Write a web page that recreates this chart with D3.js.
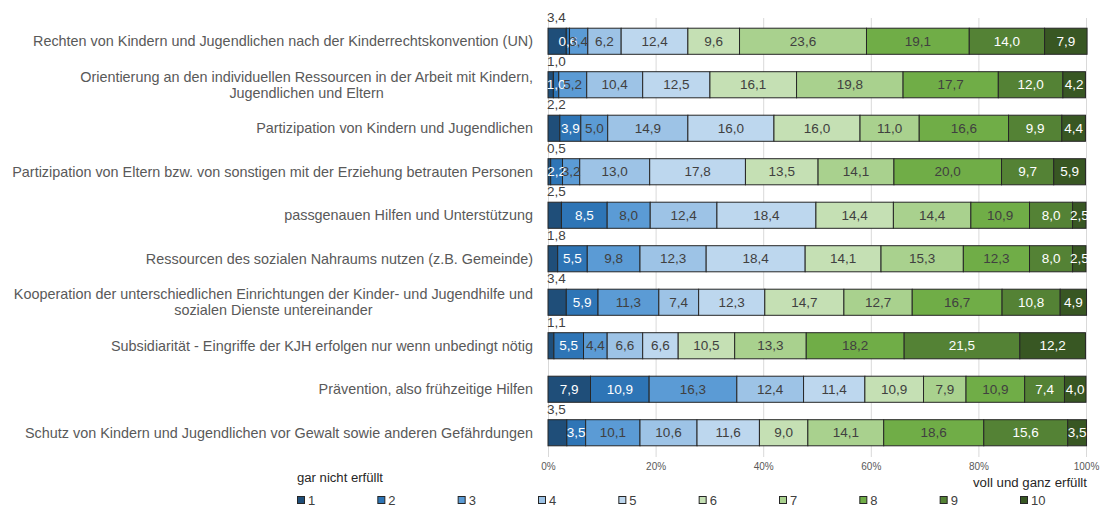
<!DOCTYPE html>
<html>
<head>
<meta charset="utf-8">
<script src="https://cdn.jsdelivr.net/npm/d3@7/dist/d3.min.js"></script>
<style>
  html, body { margin: 0; padding: 0; background: #fff; }
  svg { display: block; font-family: "Liberation Sans", Arial, sans-serif; }
</style>
</head>
<body>
<svg id="chart" width="1101" height="506"></svg>
<script>
// Categories (top to bottom); "\n" marks a line break in the label
const categories = [
  "Rechten von Kindern und Jugendlichen nach der Kinderrechtskonvention (UN)",
  "Orientierung an den individuellen Ressourcen in der Arbeit mit Kindern,\nJugendlichen und Eltern",
  "Partizipation von Kindern und Jugendlichen",
  "Partizipation von Eltern bzw. von sonstigen mit der Erziehung betrauten Personen",
  "passgenauen Hilfen und Unterstützung",
  "Ressourcen des sozialen Nahraums nutzen (z.B. Gemeinde)",
  "Kooperation der unterschiedlichen Einrichtungen der Kinder- und Jugendhilfe und\nsozialen Dienste untereinander",
  "Subsidiarität - Eingriffe der KJH erfolgen nur wenn unbedingt nötig",
  "Prävention, also frühzeitige Hilfen",
  "Schutz von Kindern und Jugendlichen vor Gewalt sowie anderen Gefährdungen"
];

// Rating scale 1 (gar nicht erfüllt) … 10 (voll und ganz erfüllt)
const ratings = ["1", "2", "3", "4", "5", "6", "7", "8", "9", "10"];

// Share of answers per rating (percent), one array per category
const valRechte       = [3.4, 0.6, 3.4, 6.2, 12.4, 9.6, 23.6, 19.1, 14.0, 7.9];
const valOrientierung = [1.0, 1.0, 5.2, 10.4, 12.5, 16.1, 19.8, 17.7, 12.0, 4.2];
const valPartKinder   = [2.2, 3.9, 5.0, 14.9, 16.0, 16.0, 11.0, 16.6, 9.9, 4.4];
const valPartEltern   = [0.5, 2.2, 3.2, 13.0, 17.8, 13.5, 14.1, 20.0, 9.7, 5.9];
const valPassgenau    = [2.5, 8.5, 8.0, 12.4, 18.4, 14.4, 14.4, 10.9, 8.0, 2.5];
const valNahraum      = [1.8, 5.5, 9.8, 12.3, 18.4, 14.1, 15.3, 12.3, 8.0, 2.5];
const valKooperation  = [3.4, 5.9, 11.3, 7.4, 12.3, 14.7, 12.7, 16.7, 10.8, 4.9];
const valSubsidiar    = [1.1, 5.5, 4.4, 6.6, 6.6, 10.5, 13.3, 18.2, 21.5, 12.2];
const valPraevention  = [7.9, 10.9, 16.3, 12.4, 11.4, 10.9, 7.9, 10.9, 7.4, 4.0];
const valSchutz       = [3.5, 3.5, 10.1, 10.6, 11.6, 9.0, 14.1, 18.6, 15.6, 3.5];

const values = [valRechte, valOrientierung, valPartKinder, valPartEltern, valPassgenau,
                valNahraum, valKooperation, valSubsidiar, valPraevention, valSchutz];

const tickValues = [0, 20, 40, 60, 80, 100];
const legendLow = "gar nicht erfüllt";
const legendHigh = "voll und ganz erfüllt";

const colors = ["#1f4e79", "#2e75b6", "#5b9bd5", "#9dc3e6", "#bdd7ee",
                "#c5e0b4", "#a9d18e", "#70ad47", "#548235", "#385723"];
const lightText = new Set([0, 1, 8, 9]);

const fmt = v => v.toFixed(1).replace(".", ",");

const svg = d3.select("#chart");
const x = d3.scaleLinear().domain([0, 100]).range([548, 1086]);
const y = d3.scaleBand().domain(d3.range(categories.length)).range([19.5, 454.5]).paddingInner(0.4).paddingOuter(0.2);

// Vertical gridlines
svg.append("g").selectAll("line").data(tickValues).join("line")
  .attr("x1", d => x(d) + 0.5).attr("x2", d => x(d) + 0.5)
  .attr("y1", 18).attr("y2", 457)
  .attr("stroke", "#d9d9d9").attr("stroke-width", 1);

// Percentage axis
const xAxis = d3.axisBottom(x).tickValues(tickValues).tickFormat(d => d + "%").tickSize(0).tickPadding(0);
const ax = svg.append("g").attr("transform", "translate(0,463)").call(xAxis);
ax.select(".domain").remove();
ax.selectAll("text").attr("fill", "#595959").attr("font-size", 10).attr("dy", "0.71em")
  .attr("font-family", "'Liberation Sans', Arial, sans-serif");

// Stacked segments
const stacked = values.map(row => {
  let acc = 0;
  return row.map((v, i) => { const s = { start: acc, v, i }; acc += v; return s; });
});

const rows = svg.append("g").selectAll("g").data(stacked).join("g")
  .attr("transform", (d, r) => `translate(0,${y(r)})`);

rows.selectAll("rect").data(d => d).join("rect")
  .attr("x", d => x(d.start))
  .attr("width", d => x(d.start + d.v) - x(d.start))
  .attr("y", 0).attr("height", y.bandwidth())
  .attr("fill", d => colors[d.i])
  .attr("stroke", "#262626").attr("stroke-width", 1);

// Value labels: inside the segment, except tiny first segments which go above the bar
rows.selectAll("text.val").data(d => d.filter(s => !(s.i === 0 && s.v < 5))).join("text")
  .attr("class", "val")
  .attr("x", d => (x(d.start) + x(d.start + d.v)) / 2)
  .attr("y", y.bandwidth() / 2)
  .attr("dy", "0.35em")
  .attr("text-anchor", "middle")
  .attr("font-size", 13.5)
  .attr("fill", d => lightText.has(d.i) ? "#ffffff" : "#404040")
  .text(d => fmt(d.v));

rows.selectAll("text.above").data(d => d.filter(s => s.i === 0 && s.v < 5)).join("text")
  .attr("class", "above")
  .attr("x", x(0) - 1)
  .attr("y", -6)
  .attr("font-size", 13.5)
  .attr("fill", "#404040")
  .text(d => fmt(d.v));

// Category labels, right aligned; wrapped lines centred on each other
const catG = svg.append("g");
const labelRight = 533;
categories.forEach((c, r) => {
  const lines = c.split("\n");
  const cy = y(r) + y.bandwidth() / 2;
  const t = catG.append("text").attr("font-size", 14.4).attr("fill", "#595959")
    .attr("text-anchor", "middle");
  const spans = lines.map((ln, k) => t.append("tspan").text(ln)
      .attr("x", 0)
      .attr("y", cy + (k - (lines.length - 1) / 2) * 16)
      .attr("dy", "0.35em"));
  const w = d3.max(spans, s => s.node().getComputedTextLength());
  spans.forEach(s => s.attr("x", labelRight - w / 2));
});

// Legend
svg.append("text").attr("x", 297).attr("y", 482).attr("font-size", 12).attr("fill", "#262626")
  .attr("textLength", 86).attr("lengthAdjust", "spacingAndGlyphs").text(legendLow);
svg.append("text").attr("x", 1087).attr("y", 487).attr("font-size", 12).attr("fill", "#262626")
  .attr("text-anchor", "end").attr("textLength", 114).attr("lengthAdjust", "spacingAndGlyphs").text(legendHigh);

const lx = d3.scalePoint().domain(ratings).range([297, 1020]);
const leg = svg.append("g").selectAll("g").data(ratings).join("g")
  .attr("transform", d => `translate(${lx(d)},496)`);
leg.append("rect").attr("x", 0.5).attr("y", 0.5).attr("width", 7).attr("height", 7)
  .attr("fill", (d, i) => colors[i]).attr("stroke", "#262626").attr("stroke-width", 1);
leg.append("text").attr("x", 11).attr("y", 8.5).attr("font-size", 13).attr("fill", "#404040").text(d => d);
</script>
</body>
</html>
